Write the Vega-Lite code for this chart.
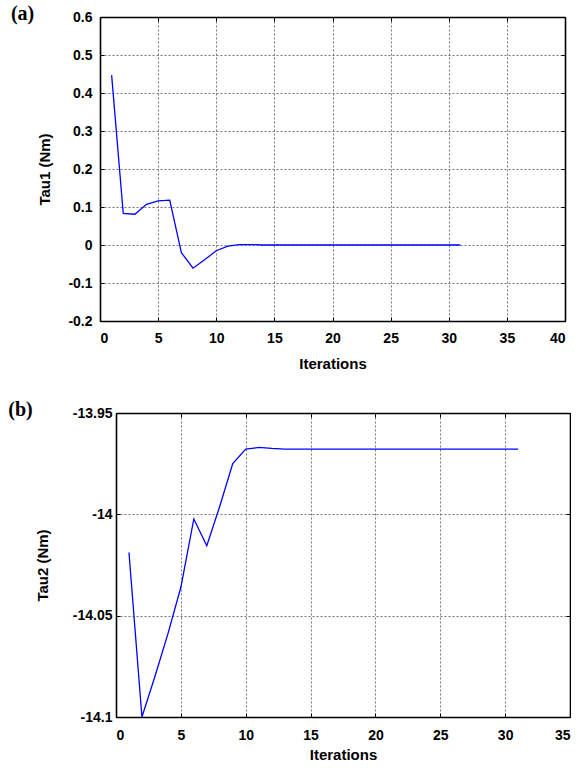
{
  "$schema": "https://vega.github.io/schema/vega-lite/v6.json",
  "background": "white",
  "padding": {"left": 8, "top": 4, "right": 0, "bottom": 0},
  "spacing": 29,
  "config": {
    "locale": {"number": {"decimal": ".", "thousands": ",", "grouping": [3], "currency": ["$", ""], "minus": "-"}},
    "font": "Liberation Sans",
    "view": {"stroke": null},
    "axis": {
      "domain": true, "domainColor": "#000", "domainWidth": 1.6,
      "ticks": true, "tickSize": -4, "tickColor": "#000", "tickWidth": 1,
      "grid": true, "gridColor": "#555", "gridDash": [2, 2], "gridWidth": 0.8, "gridOpacity": 1,
      "labelFont": "Liberation Sans", "labelFontWeight": "bold", "labelFontSize": 14, "labelColor": "#000",
      "titleFont": "Liberation Sans", "titleFontWeight": "bold", "titleFontSize": 15, "titleColor": "#000"
    },
    "title": {"anchor": "start", "frame": "bounds", "font": "Liberation Serif", "fontSize": 20, "fontWeight": "bold", "color": "#000", "offset": 0, "baseline": "alphabetic"}
  },
  "datasets": {
    "tau1": [
      {"iter": 1, "tau": 0.447}, {"iter": 2, "tau": 0.083}, {"iter": 3, "tau": 0.081}, {"iter": 4, "tau": 0.107},
      {"iter": 5, "tau": 0.116}, {"iter": 6, "tau": 0.118}, {"iter": 7, "tau": -0.02}, {"iter": 8, "tau": -0.061},
      {"iter": 9, "tau": -0.039}, {"iter": 10, "tau": -0.015}, {"iter": 11, "tau": -0.003}, {"iter": 12, "tau": 0.001},
      {"iter": 13, "tau": 0.001}, {"iter": 14, "tau": 0}, {"iter": 15, "tau": 0}, {"iter": 16, "tau": 0},
      {"iter": 17, "tau": 0}, {"iter": 18, "tau": 0}, {"iter": 19, "tau": 0}, {"iter": 20, "tau": 0},
      {"iter": 21, "tau": 0}, {"iter": 22, "tau": 0}, {"iter": 23, "tau": 0}, {"iter": 24, "tau": 0},
      {"iter": 25, "tau": 0}, {"iter": 26, "tau": 0}, {"iter": 27, "tau": 0}, {"iter": 28, "tau": 0},
      {"iter": 29, "tau": 0}, {"iter": 30, "tau": 0}, {"iter": 31, "tau": 0}
    ],
    "tau2": [
      {"iter": 1, "tau": -14.0188}, {"iter": 2, "tau": -14.1}, {"iter": 3, "tau": -14.080}, {"iter": 4, "tau": -14.059},
      {"iter": 5, "tau": -14.036}, {"iter": 6, "tau": -14.0023}, {"iter": 7, "tau": -14.0155}, {"iter": 8, "tau": -13.996},
      {"iter": 9, "tau": -13.975}, {"iter": 10, "tau": -13.9678}, {"iter": 11, "tau": -13.967}, {"iter": 12, "tau": -13.9675},
      {"iter": 13, "tau": -13.9678}, {"iter": 14, "tau": -13.9678}, {"iter": 15, "tau": -13.9678}, {"iter": 16, "tau": -13.9678},
      {"iter": 17, "tau": -13.9678}, {"iter": 18, "tau": -13.9678}, {"iter": 19, "tau": -13.9678}, {"iter": 20, "tau": -13.9678},
      {"iter": 21, "tau": -13.9678}, {"iter": 22, "tau": -13.9678}, {"iter": 23, "tau": -13.9678}, {"iter": 24, "tau": -13.9678},
      {"iter": 25, "tau": -13.9678}, {"iter": 26, "tau": -13.9678}, {"iter": 27, "tau": -13.9678}, {"iter": 28, "tau": -13.9678},
      {"iter": 29, "tau": -13.9678}, {"iter": 30, "tau": -13.9678}, {"iter": 31, "tau": -13.9678}
    ]
  },
  "vconcat": [
    {
      "title": {"text": "(a)", "dx": -27, "dy": 18},
      "width": 465,
      "height": 304,
      "data": {"name": "tau1"},
      "layer": [
        {
          "mark": {"type": "line", "color": "#0000ff", "strokeWidth": 1.3},
          "encoding": {
            "x": {"field": "iter", "type": "quantitative", "title": "Iterations",
                  "scale": {"domain": [0, 40], "nice": false},
                  "axis": {"values": [0, 5, 10, 15, 20, 25, 30, 35, 40], "format": "~g", "labelPadding": 14, "titlePadding": 11}},
            "y": {"field": "tau", "type": "quantitative", "title": "Tau1 (Nm)",
                  "scale": {"domain": [-0.2, 0.6], "nice": false, "zero": false},
                  "axis": {"values": [-0.2, -0.1, 0, 0.1, 0.2, 0.3, 0.4, 0.5, 0.6], "format": "~g", "labelPadding": 12, "titlePadding": 15}}
          }
        },
        {
          "mark": {"type": "line", "strokeOpacity": 0},
          "encoding": {
            "x": {"field": "iter", "type": "quantitative",
                  "axis": {"orient": "top", "values": [0, 5, 10, 15, 20, 25, 30, 35, 40], "labels": false, "title": null, "grid": false}},
            "y": {"field": "tau", "type": "quantitative",
                  "axis": {"orient": "right", "values": [-0.2, -0.1, 0, 0.1, 0.2, 0.3, 0.4, 0.5, 0.6], "labels": false, "title": null, "grid": false}}
          }
        }
      ],
      "resolve": {"axis": {"x": "independent", "y": "independent"}}
    },
    {
      "title": {"text": "(b)", "dx": -27, "dy": 18},
      "width": 470,
      "height": 304,
      "data": {"name": "tau2"},
      "layer": [
        {
          "mark": {"type": "line", "color": "#0000ff", "strokeWidth": 1.3},
          "encoding": {
            "x": {"field": "iter", "type": "quantitative", "title": "Iterations",
                  "scale": {"domain": [0, 35], "nice": false, "range": [16, 470]},
                  "axis": {"values": [0, 5, 10, 15, 20, 25, 30, 35], "format": "~g", "labelPadding": 15, "titlePadding": 5}},
            "y": {"field": "tau", "type": "quantitative", "title": "Tau2 (Nm)",
                  "scale": {"domain": [-14.1, -13.95], "nice": false, "zero": false},
                  "axis": {"values": [-14.1, -14.05, -14, -13.95], "format": "~g", "offset": -16, "labelPadding": 8, "titlePadding": 22}}
          }
        },
        {
          "mark": {"type": "line", "strokeOpacity": 0},
          "encoding": {
            "x": {"field": "iter", "type": "quantitative",
                  "axis": {"orient": "top", "values": [0, 5, 10, 15, 20, 25, 30, 35], "labels": false, "title": null, "grid": false}},
            "y": {"field": "tau", "type": "quantitative",
                  "axis": {"orient": "right", "values": [-14.1, -14.05, -14, -13.95], "labels": false, "title": null, "grid": false}}
          }
        }
      ],
      "resolve": {"axis": {"x": "independent", "y": "independent"}}
    }
  ]
}
